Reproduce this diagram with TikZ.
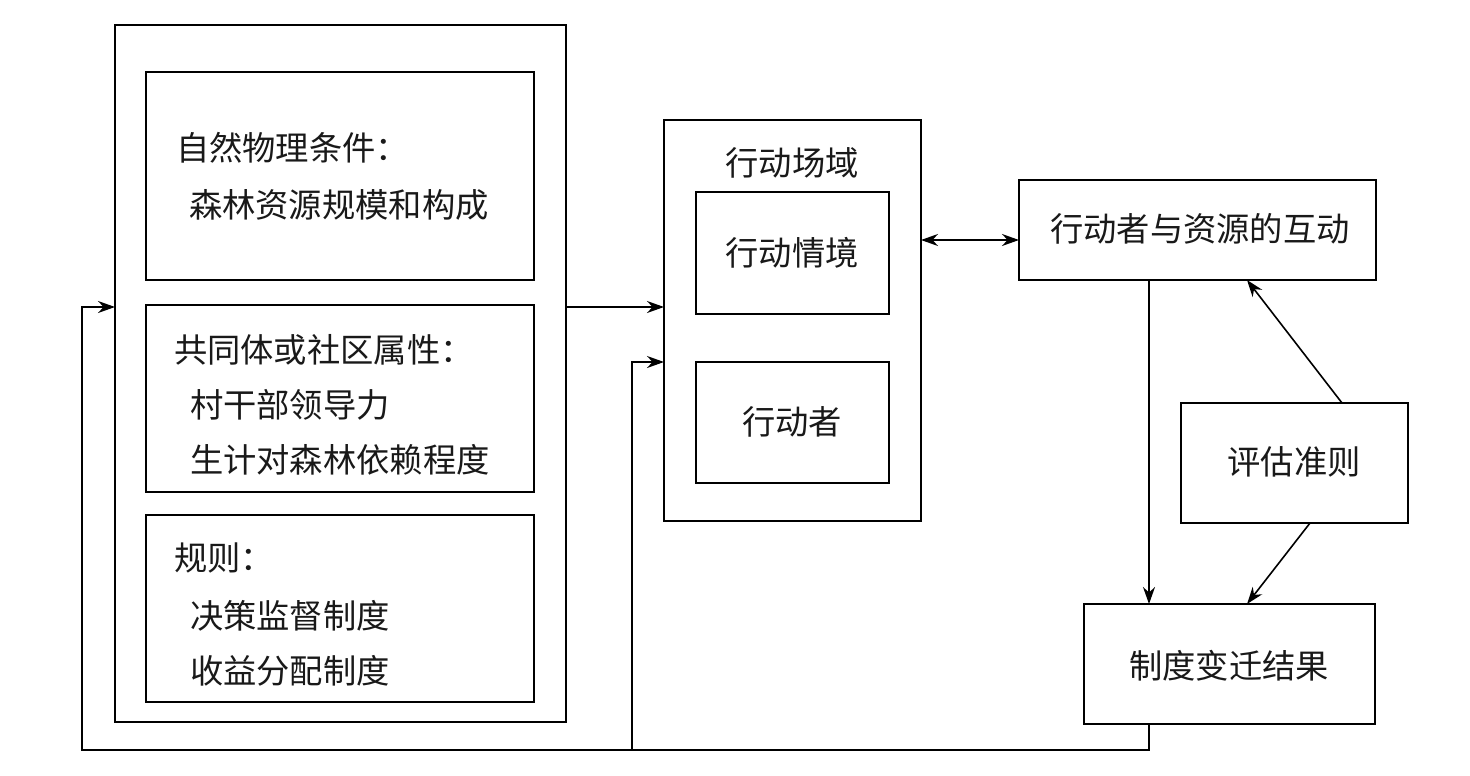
\documentclass[tikz,border=0pt]{standalone}
\usepackage{fontspec}
\newfontfamily\cjk{Noto Sans CJK SC}
\usetikzlibrary{arrows.meta}
\begin{document}
\begin{tikzpicture}[x=1pt,y=-1pt,
  box/.style={draw=black,line width=1.7pt,inner sep=0pt,outer sep=0pt,fill=none},
  lbl/.style={inner sep=0pt,outer sep=0pt,font=\cjk\fontsize{33.3}{40}\selectfont,text=black!90},
  arr/.style={draw=black,line width=1.6pt,-{Stealth[length=17pt,width=12pt]}},
  arrtwo/.style={draw=black,line width=1.6pt,{Stealth[length=17pt,width=12pt]}-{Stealth[length=17pt,width=12pt]}},
  ln/.style={draw=black,line width=1.6pt}]
\useasboundingbox (0,0) rectangle (1470,776);
% boxes
\node[box,minimum width=451pt,minimum height=697pt] (outer) at (340.5,373.5) {};
\node[box,minimum width=388pt,minimum height=208pt] (b1) at (340,176) {};
\node[box,minimum width=388pt,minimum height=187pt] (b2) at (340,398.5) {};
\node[box,minimum width=388pt,minimum height=187pt] (b3) at (340,608.5) {};
\node[box,minimum width=257pt,minimum height=401pt] (arena) at (792.5,320.5) {};
\node[box,minimum width=193pt,minimum height=122pt] (sit) at (792.5,253) {};
\node[box,minimum width=193pt,minimum height=121pt] (act) at (792.5,422.5) {};
\node[box,minimum width=357pt,minimum height=100pt] (inter) at (1197.5,230) {};
\node[box,minimum width=227pt,minimum height=120pt] (crit) at (1294.5,463) {};
\node[box,minimum width=291pt,minimum height=120pt] (out) at (1229.5,664) {};
% texts
\node[lbl,anchor=west] (t11) at (176,148) {自然物理条件：};
\node[lbl,anchor=west] (t12) at (189,205) {森林资源规模和构成};
\node[lbl,anchor=west] (t21) at (174,350) {共同体或社区属性：};
\node[lbl,anchor=west] (t22) at (190,405) {村干部领导力};
\node[lbl,anchor=west] (t23) at (190,460) {生计对森林依赖程度};
\node[lbl,anchor=west] (t31) at (174,558) {规则：};
\node[lbl,anchor=west] (t32) at (190,616) {决策监督制度};
\node[lbl,anchor=west] (t33) at (190,671) {收益分配制度};
\node[lbl] (tarena) at (792,163) {行动场域};
\node[lbl] (tsit) at (792,253) {行动情境};
\node[lbl] (tact) at (792,422) {行动者};
\node[lbl] (tinter) at (1200,229) {行动者与资源的互动};
\node[lbl] (tcrit) at (1294,462) {评估准则};
\node[lbl] (tout) at (1229,666) {制度变迁结果};
% helper coordinates
\coordinate (p1) at (566,307);
\coordinate (p2) at (632,362);
\coordinate (p3) at (921,240);
\coordinate (fbx) at (1149,750);
\coordinate (fl) at (82,750);
\coordinate (fm) at (632,750);
\coordinate (q1) at (1342,0);
\coordinate (q2) at (1247,0);
\coordinate (q3) at (1310,0);
% connectors
\draw[arr] (p1) -- (p1 -| arena.west);
\draw[arr] (out.south -| fbx) -- (fbx) -- (fl) -- (fl |- p1) -- (outer.west |- p1);
\draw[arr] (fm) -- (p2) -- (p2 -| arena.west);
\draw[arrtwo] (arena.east |- p3) -- (inter.west |- p3);
\draw[arr] (inter.south -| fbx) -- (out.north -| fbx);
\draw[arr] (crit.north -| q1) -- (inter.south -| q2);
\draw[arr] (crit.south -| q3) -- (out.north -| q2);
\end{tikzpicture}
\end{document}
